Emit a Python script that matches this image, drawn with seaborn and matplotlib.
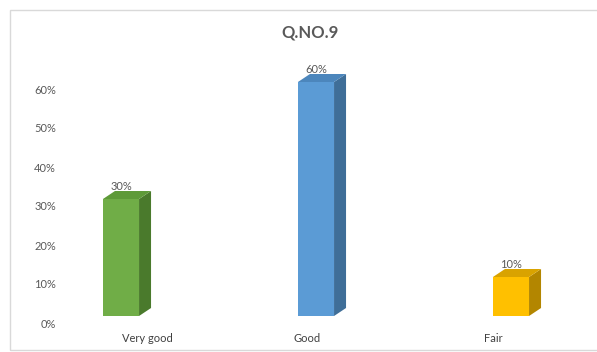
import matplotlib
matplotlib.use("Agg")
import matplotlib.pyplot as plt
from matplotlib.patches import Polygon, Rectangle
from matplotlib.transforms import ScaledTranslation
import pandas as pd
import seaborn as sns

categories = ["Very good", "Good", "Fair"]
shares = [0.30, 0.60, 0.10]
value_labels = ["30%", "60%", "10%"]
front_colors = ["#70AD47", "#5B9BD5", "#FFC000"]
side_colors = ["#4A7A2C", "#3F6E98", "#B38600"]
top_colors = ["#5E9A38", "#4C86BC", "#D9A300"]
y_ticks = [0.0, 0.1, 0.2, 0.3, 0.4, 0.5, 0.6]
y_tick_labels = ["0%", "10%", "20%", "30%", "40%", "50%", "60%"]

sns.set_theme(style="white")
plt.rcParams["font.family"] = ["Lato", "DejaVu Sans"]

W, H = 597, 352
fig = plt.figure(figsize=(W / 100, H / 100), dpi=100)

# chart frame
fig.patches.append(Rectangle((10 / W, 2 / H), 600 / W, 340 / H, transform=fig.transFigure,
                             fill=False, edgecolor="#D9D9D9", linewidth=1.0))

ax_left, ax_right, ax_top, ax_bottom = 70, 580, 60, 316
ax = fig.add_axes([ax_left / W, (H - ax_bottom) / H, (ax_right - ax_left) / W, (ax_bottom - ax_top) / H])

df = pd.DataFrame({"category": categories, "share": shares})
sns.barplot(data=df, x="category", y="share", hue="category", palette=front_colors,
            order=categories, hue_order=categories, width=0.185, legend=False,
            saturation=1, ax=ax, linewidth=0)

px_per_x = 195.0
px_per_y = 390.0
ax.set_xlim((ax_left - 121) / px_per_x, (ax_right - 121) / px_per_x)
ax.set_ylim(0, (ax_bottom - ax_top) / px_per_y)

# depth of the 3-D faces
dx = 12 / px_per_x
dy = 8 / px_per_y

for i, patch in enumerate(ax.patches[:len(categories)]):
    x0 = patch.get_x()
    w = patch.get_width()
    h = patch.get_height()
    side = Polygon([(x0 + w, 0), (x0 + w + dx, dy), (x0 + w + dx, h + dy), (x0 + w, h)],
                   closed=True, facecolor=side_colors[i], edgecolor="none", clip_on=False)
    top = Polygon([(x0, h), (x0 + dx, h + dy), (x0 + w + dx, h + dy), (x0 + w, h)],
                  closed=True, facecolor=top_colors[i], edgecolor="none", clip_on=False)
    ax.add_patch(side)
    ax.add_patch(top)
    ax.annotate(value_labels[i], (x0 + w / 2, h), xytext=(0, 9), textcoords="offset points",
                ha="center", va="center", fontsize=8, color="#595959", annotation_clip=False)

ax.set_yticks(y_ticks)
ax.set_yticklabels(y_tick_labels)
ax.set_xlabel("")
ax.set_ylabel("")
ax.tick_params(axis="y", length=0, pad=10, labelsize=8, labelcolor="#595959")
ax.tick_params(axis="x", length=0, pad=12, labelsize=8, labelcolor="#404040")
for lbl in ax.get_yticklabels():
    lbl.set_transform(lbl.get_transform() + ScaledTranslation(0, -7 / 100, fig.dpi_scale_trans))
x_shifts = [26, -9, -18]
for lbl, s in zip(ax.get_xticklabels(), x_shifts):
    lbl.set_transform(lbl.get_transform() + ScaledTranslation(s / 100, 0, fig.dpi_scale_trans))

for sp in ax.spines.values():
    sp.set_visible(False)
ax.patch.set_alpha(0)

fig.text(310 / W, 1 - 33 / H, "Q.NO.9", ha="center", va="center", fontsize=12,
         fontweight="bold", color="#595959")

fig.savefig("out.png", dpi=100)
